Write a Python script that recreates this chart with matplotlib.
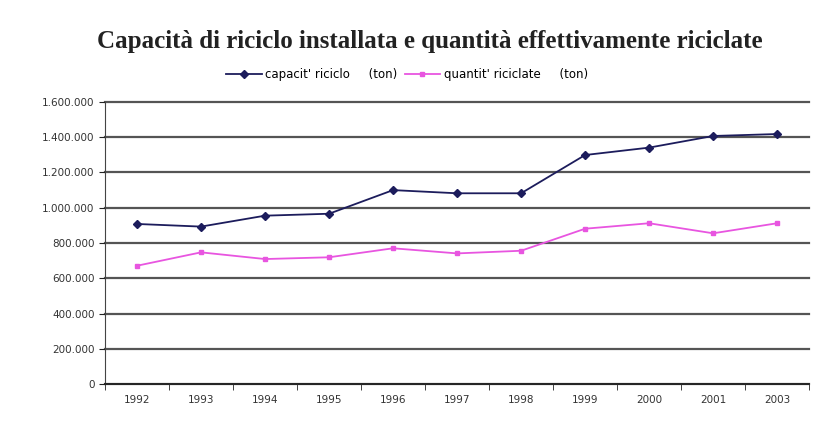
import numpy as np
import matplotlib.pyplot as plt
from matplotlib.ticker import FuncFormatter

anni = ['1992', '1993', '1994', '1995', '1996', '1997', '1998', '1999', '2000', '2001', '2003']
capacita = [908000, 893000, 955000, 966000, 1100000, 1082000, 1082000, 1299000, 1341000, 1407000, 1418000]
riciclate = [671000, 747000, 709000, 719000, 770000, 741000, 756000, 881000, 912000, 855000, 912000]

fig = plt.figure(figsize=(8.14, 4.32), dpi=100)
ax = fig.add_axes([0.129, 0.111, 0.865, 0.653])

x = np.arange(len(anni))
ax.plot(x, capacita, color='#1c1c5c', marker='D', markersize=4.5, linewidth=1.3,
        label="capacit' riciclo     (ton)")
ax.plot(x, riciclate, color='#e855e0', marker='s', markersize=3.5, linewidth=1.3,
        label="quantit' riciclate     (ton)")

ax.set_xlim(-0.5, len(anni) - 0.5)
ax.set_ylim(0, 1600000)
ax.set_yticks(np.arange(0, 1600001, 200000))
ax.yaxis.set_major_formatter(FuncFormatter(lambda v, p: f'{int(v):,}'.replace(',', '.')))
ax.set_xticks(x)
ax.set_xticklabels(anni)
ax.set_xticks(np.arange(-0.5, len(anni), 1), minor=True)
ax.tick_params(axis='x', which='major', length=0, pad=8, labelsize=7.5, colors='#333333')
ax.tick_params(axis='x', which='minor', length=4, direction='out', color='#222222')
ax.tick_params(axis='y', length=4, labelsize=7.5, colors='#333333')
ax.tick_params(axis='y', color='#222222')

ax.grid(axis='y', color='#555555', linewidth=1.6)
for g in ax.get_ygridlines():
    g.set_clip_on(False)
ax.set_axisbelow(True)
for s in ['top', 'right']:
    ax.spines[s].set_visible(False)
ax.spines['left'].set_color('#444444')
ax.spines['bottom'].set_color('#222222')
ax.spines['bottom'].set_linewidth(1.3)

fig.text(0.528, 0.905, 'Capacità di riciclo installata e quantità effettivamente riciclate',
         ha='center', va='center', fontsize=18, fontweight='bold',
         family='Liberation Serif', color='#222222')
fig.legend(loc='center', bbox_to_anchor=(0.5, 0.828), ncol=2, frameon=False,
           fontsize=8.5, handlelength=3, columnspacing=0.6, handletextpad=0.3)

fig.savefig('out.png', dpi=100)
